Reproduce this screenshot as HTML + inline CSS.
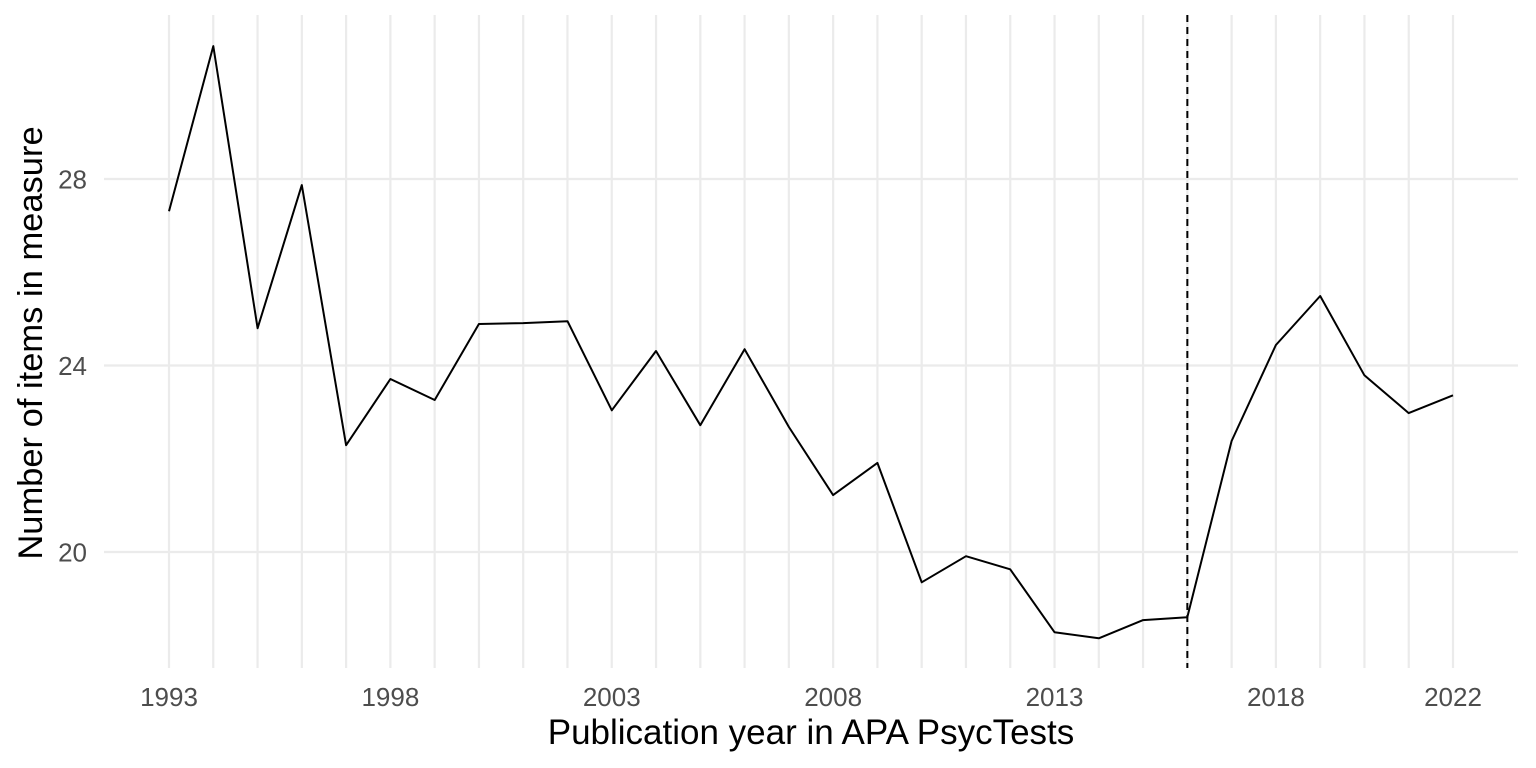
<!DOCTYPE html>
<html><head><meta charset="utf-8"><style>
body{margin:0;background:#fff;}
svg{display:block;font-family:"Liberation Sans",Arial,sans-serif;}
</style></head><body>
<svg id="chart" width="1536" height="768">
<g id="grid"></g>
<g id="axes"></g>
<g id="marks"></g>
<text x="811" y="744" text-anchor="middle" font-size="35" fill="#000">Publication year in APA PsycTests</text>
<text transform="translate(42,343) rotate(-90)" text-anchor="middle" font-size="34.5" fill="#000">Number of items in measure</text>
</svg>
<script>
const years = [1993,1994,1995,1996,1997,1998,1999,2000,2001,2002,2003,2004,2005,2006,2007,2008,2009,2010,2011,2012,2013,2014,2015,2016,2017,2018,2019,2020,2021,2022];
const items = [27.31,30.85,24.8,27.87,22.29,23.71,23.26,24.89,24.91,24.95,23.04,24.31,22.72,24.35,22.68,21.22,21.91,19.35,19.91,19.63,18.28,18.15,18.54,18.60,22.38,24.44,25.49,23.79,22.98,23.36];
const xTicks = [1993,1998,2003,2008,2013,2018,2022];
const yTicks = [20,24,28];
const cutoffYear = 2016;

const NS="http://www.w3.org/2000/svg";
const xs = y => 169 + (y-1993)*(1453-169)/29;
const ys = v => 552 - (v-20)*(552-179)/8;
function mk(tag, attrs, parent){const e=document.createElementNS(NS,tag);for(const k in attrs)e.setAttribute(k,attrs[k]);parent.appendChild(e);return e;}
const grid=document.getElementById('grid'), axes=document.getElementById('axes'), marks=document.getElementById('marks');
yTicks.forEach(t=>{
  const l=mk('line',{x1:104,x2:1518,y1:ys(t),y2:ys(t),stroke:'#ebebeb','stroke-width':2.2},grid);
  
  
  const tx=mk('text',{x:87,y:ys(t)+9.5,'text-anchor':'end','font-size':26,fill:'#4d4d4d'},axes);
  tx.textContent=t;
  
  
});
years.forEach(y=>{
  const l=mk('line',{x1:xs(y),x2:xs(y),y1:15,y2:668,stroke:'#ebebeb','stroke-width':2.2},grid);
  
  
});
xTicks.forEach(y=>{
  const tx=mk('text',{x:xs(y),y:706,'text-anchor':'middle','font-size':26,fill:'#4d4d4d'},axes);
  tx.textContent=y;
  
  
});
const d=years.map((y,i)=>(i?'L':'M')+xs(y).toFixed(1)+','+ys(items[i]).toFixed(1)).join(' ');
const p=mk('path',{d:d,fill:'none',stroke:'#000','stroke-width':2,'stroke-linejoin':'round'},marks);


const v=mk('line',{x1:xs(cutoffYear),x2:xs(cutoffYear),y1:15,y2:668,stroke:'#000','stroke-width':2,'stroke-dasharray':'7,5'},marks);


</script>
</body></html>
